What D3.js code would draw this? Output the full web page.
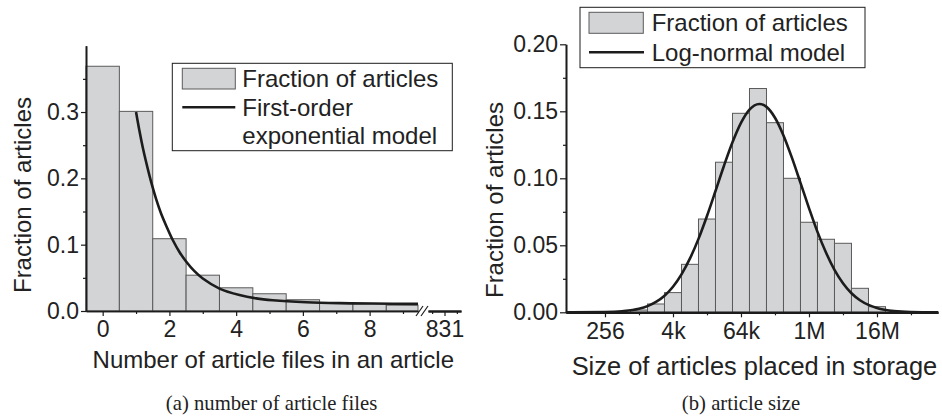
<!DOCTYPE html>
<html>
<head>
<meta charset="utf-8">
<script src="https://cdn.jsdelivr.net/npm/d3@7"></script>
<style>
  html, body { margin: 0; padding: 0; background: #fff; }
  svg { display: block; }
  text { font-family: "Liberation Sans", Arial, Helvetica, sans-serif; fill: #222; }
  .cap { font-family: "Liberation Serif", "Times New Roman", serif; }
</style>
</head>
<body>
<svg id="chart" width="942" height="418"></svg>
<script>
// ---------- data: (a) number of article files ----------
const leftBins = [0, 1, 2, 3, 4, 5, 6, 7, 8, 9];
const leftFraction = [0.369, 0.301, 0.109, 0.054, 0.035, 0.026, 0.017, 0.0125, 0.011, 0.0088];
const leftModelX = [1, 1.1, 1.2, 1.3, 1.45, 1.6, 1.75, 1.9, 2.1, 2.3, 2.5, 2.75, 3, 3.5, 4.1, 4.6, 5.1, 6.1, 7.1, 8.1, 9.45];
const leftModelY = [0.300, 0.272, 0.247, 0.225, 0.195, 0.169, 0.147, 0.129, 0.107, 0.089, 0.0747, 0.060, 0.049,
                    0.0338, 0.024, 0.019, 0.0162, 0.0132, 0.0118, 0.0112, 0.0108];
const leftXTicks = [0, 2, 4, 6, 8];
const leftXMinor = [1, 3, 5, 7, 9];
const leftBreakTicks = [831];
const leftBreakMinor = [830.25, 831.75];
const leftYTicks = [0, 0.1, 0.2, 0.3];
const leftYMinor = [0.05, 0.15, 0.25, 0.35];

// ---------- data: (b) article size ----------
const rightBinSizes = [1024, 2048, 4096, 8192, 16384, 32768, 65536, 131072, 262144, 524288,
                       1048576, 2097152, 4194304, 8388608, 16777216];
const rightFraction = [0.0017, 0.0062, 0.0147, 0.0358, 0.0696, 0.112, 0.1485, 0.167, 0.1415, 0.100,
                       0.0672, 0.0545, 0.0515, 0.0179, 0.0042];
const rightModelLog2 = [5.7, 6, 8, 9, 10, 10.5, 11, 11.5, 12, 12.5, 13, 13.5, 14, 14.5, 15, 15.5, 16, 16.5,
                        17.08, 17.5, 18, 18.5, 19, 19.5, 20, 20.5, 21, 21.5, 22, 22.5, 23, 23.5, 24, 25, 26, 27.6];
const rightModelY = [0, 0, 0.0002, 0.0008, 0.0026, 0.0046, 0.0077, 0.0124, 0.0191, 0.0283, 0.0402, 0.0548,
                     0.0719, 0.0905, 0.1094, 0.1269, 0.1414, 0.1513, 0.1555, 0.1533, 0.1452, 0.132, 0.1152,
                     0.0966, 0.0778, 0.060, 0.0446, 0.0317, 0.0217, 0.0142, 0.009, 0.0055, 0.0032, 0.0009, 0.0002, 0];
const rightXTicks = [256, 4096, 65536, 1048576, 16777216];
const rightXTickLabels = ["256", "4k", "64k", "1M", "16M"];
const rightXMinor = [1024, 16384, 262144, 4194304, 67108864];
const rightYTicks = [0, 0.05, 0.10, 0.15, 0.20];
const rightYMinor = [0.025, 0.075, 0.125, 0.175];

const legendLabels = { bars: "Fraction of articles", leftModel: ["First-order", "exponential model"], rightModel: "Log-normal model" };
const axisTitles = { y: "Fraction of articles", leftX: "Number of article files in an article", rightX: "Size of articles placed in storage" };
const captions = ["(a) number of article files", "(b) article size"];

// ---------- styles ----------
const BAR_FILL = "#d3d4d6", BAR_STROKE = "#5a5a5a", INK = "#1c1c1c";
const svg = d3.select("#chart");

function styleAxis(g, fs) {
  g.select(".domain").attr("stroke", INK).attr("stroke-width", 1.6);
  g.selectAll(".tick line").attr("stroke", INK).attr("stroke-width", 1.2);
  g.selectAll(".tick text").attr("font-size", fs).attr("fill", "#222")
    .attr("font-family", '"Liberation Sans", Arial, sans-serif');
}

// ================= LEFT CHART =================
{
  const x = d3.scaleLinear().domain([-0.5, 9.45]).range([86, 418]);
  const x2 = d3.scaleLinear().domain([830, 832]).range([428, 461]);
  const y = d3.scaleLinear().domain([0, 0.4]).range([311, 45.7]);
  const g = svg.append("g");

  g.selectAll("rect.bar").data(leftBins.map((b, i) => ({ b, v: leftFraction[i] })))
    .join("rect").attr("class", "bar")
    .attr("x", d => x(d.b - 0.5))
    .attr("width", d => x(Math.min(d.b + 0.5, x.domain()[1])) - x(d.b - 0.5))
    .attr("y", d => y(d.v))
    .attr("height", d => y(0) - y(d.v))
    .attr("fill", BAR_FILL).attr("stroke", BAR_STROKE).attr("stroke-width", 1);

  const line = d3.line().x(d => x(d[0])).y(d => y(d[1])).curve(d3.curveCatmullRom.alpha(0.5));
  g.append("path").datum(leftModelX.map((v, i) => [v, leftModelY[i]]))
    .attr("d", line).attr("fill", "none").attr("stroke", INK).attr("stroke-width", 2.6);

  const gx = g.append("g").attr("transform", `translate(0,${y(0)})`)
    .call(d3.axisBottom(x).tickValues(leftXTicks).tickFormat(d3.format("d")).tickSize(5).tickSizeOuter(0).tickPadding(4.5));
  styleAxis(gx, 23);
  const gxm = g.append("g").attr("transform", `translate(0,${y(0)})`)
    .call(d3.axisBottom(x).tickValues(leftXMinor).tickFormat("").tickSize(3).tickSizeOuter(0));
  styleAxis(gxm, 23);
  const gx2 = g.append("g").attr("transform", `translate(0,${y(0)})`)
    .call(d3.axisBottom(x2).tickValues(leftBreakTicks).tickFormat(d3.format("d")).tickSize(5).tickSizeOuter(0).tickPadding(4.5));
  styleAxis(gx2, 23);
  gx2.select(".domain").attr("stroke-width", 2);
  const gx2m = g.append("g").attr("transform", `translate(0,${y(0)})`)
    .call(d3.axisBottom(x2).tickValues(leftBreakMinor).tickFormat("").tickSize(3).tickSizeOuter(0));
  styleAxis(gx2m, 23);
  gx2m.select(".domain").attr("stroke-width", 2);

  const bx = x.range()[1], by = y(0);
  [1, 6].forEach(o => {
    g.append("line").attr("x1", bx + o - 3).attr("y1", by + 5).attr("x2", bx + o + 4).attr("y2", by - 5)
      .attr("stroke", INK).attr("stroke-width", 1.2);
  });

  const gy = g.append("g").attr("transform", `translate(${x.range()[0]},0)`)
    .call(d3.axisLeft(y).tickValues(leftYTicks).tickFormat(d3.format(".1f")).tickSize(5).tickSizeOuter(0).tickPadding(2));
  styleAxis(gy, 23);
  const gym = g.append("g").attr("transform", `translate(${x.range()[0]},0)`)
    .call(d3.axisLeft(y).tickValues(leftYMinor).tickFormat("").tickSize(3).tickSizeOuter(0));
  styleAxis(gym, 23);

  g.append("text").attr("transform", `translate(31,195) rotate(-90)`).attr("text-anchor", "middle")
    .attr("font-size", 24).text(axisTitles.y);
  g.append("text").attr("x", 273.3).attr("y", 368).attr("text-anchor", "middle")
    .attr("font-size", 24).text(axisTitles.leftX);

  const lg = g.append("g");
  lg.append("rect").attr("x", 172.3).attr("y", 63.3).attr("width", 280).attr("height", 87.4)
    .attr("fill", "#fff").attr("stroke", INK).attr("stroke-width", 1);
  lg.append("rect").attr("x", 182.3).attr("y", 68.3).attr("width", 53).attr("height", 20.7)
    .attr("fill", BAR_FILL).attr("stroke", BAR_STROKE).attr("stroke-width", 1);
  lg.append("text").attr("x", 242.3).attr("y", 86.7).attr("font-size", 24).text(legendLabels.bars);
  lg.append("line").attr("x1", 182.3).attr("x2", 235.3).attr("y1", 107.3).attr("y2", 107.3)
    .attr("stroke", INK).attr("stroke-width", 2.6);
  lg.append("text").attr("x", 242.3).attr("y", 116).attr("font-size", 24).text(legendLabels.leftModel[0]);
  lg.append("text").attr("x", 242.3).attr("y", 144.3).attr("font-size", 24).text(legendLabels.leftModel[1]);
}

// ================= RIGHT CHART =================
{
  const x = d3.scaleLog().base(2).domain([Math.pow(2, 5.706), Math.pow(2, 27.59)]).range([566, 938]);
  const y = d3.scaleLinear().domain([0, 0.2]).range([312.3, 44.3]);
  const g = svg.append("g");

  g.selectAll("rect.bar").data(rightBinSizes.map((s, i) => ({ s, v: rightFraction[i] })))
    .join("rect").attr("class", "bar")
    .attr("x", d => x(d.s / Math.SQRT2))
    .attr("width", d => x(d.s * Math.SQRT2) - x(d.s / Math.SQRT2))
    .attr("y", d => y(d.v))
    .attr("height", d => y(0) - y(d.v))
    .attr("fill", BAR_FILL).attr("stroke", BAR_STROKE).attr("stroke-width", 1);

  const line = d3.line().x(d => x(Math.pow(2, d[0]))).y(d => y(d[1])).curve(d3.curveMonotoneX);
  g.append("path").datum(rightModelLog2.map((p, i) => [p, rightModelY[i]]))
    .attr("d", line).attr("fill", "none").attr("stroke", INK).attr("stroke-width", 2.6);

  const gx = g.append("g").attr("transform", `translate(0,${y(0)})`)
    .call(d3.axisBottom(x).tickValues(rightXTicks).tickFormat((d, i) => rightXTickLabels[i]).tickSize(5).tickSizeOuter(0).tickPadding(5.7));
  styleAxis(gx, 23);
  gx.select(".domain").attr("stroke-width", 2.2);
  const gxm = g.append("g").attr("transform", `translate(0,${y(0)})`)
    .call(d3.axisBottom(x).tickValues(rightXMinor).tickFormat("").tickSize(3).tickSizeOuter(0));
  styleAxis(gxm, 23);
  gxm.select(".domain").attr("stroke-width", 2.2);

  const gy = g.append("g").attr("transform", `translate(${x.range()[0]},0)`)
    .call(d3.axisLeft(y).tickValues(rightYTicks).tickFormat(d3.format(".2f")).tickSize(6).tickSizeOuter(0).tickPadding(2));
  styleAxis(gy, 23);
  const gym = g.append("g").attr("transform", `translate(${x.range()[0]},0)`)
    .call(d3.axisLeft(y).tickValues(rightYMinor).tickFormat("").tickSize(3).tickSizeOuter(0));
  styleAxis(gym, 23);

  g.append("text").attr("transform", `translate(503,200) rotate(-90)`).attr("text-anchor", "middle")
    .attr("font-size", 24).text(axisTitles.y);
  g.append("text").attr("x", 571.7).attr("y", 375).attr("text-anchor", "start")
    .attr("font-size", 25.4).text(axisTitles.rightX);

  const lg = g.append("g");
  lg.append("rect").attr("x", 580).attr("y", 7.3).attr("width", 285).attr("height", 60.4)
    .attr("fill", "#fff").attr("stroke", INK).attr("stroke-width", 1);
  lg.append("rect").attr("x", 589).attr("y", 12.3).attr("width", 54.3).attr("height", 21)
    .attr("fill", BAR_FILL).attr("stroke", BAR_STROKE).attr("stroke-width", 1);
  lg.append("text").attr("x", 651.7).attr("y", 30.7).attr("font-size", 24).text(legendLabels.bars);
  lg.append("line").attr("x1", 589).attr("x2", 644).attr("y1", 52.3).attr("y2", 52.3)
    .attr("stroke", INK).attr("stroke-width", 2.6);
  lg.append("text").attr("x", 651.7).attr("y", 61).attr("font-size", 24).text(legendLabels.rightModel);
}

svg.append("text").attr("class", "cap").attr("x", 271.5).attr("y", 410).attr("text-anchor", "middle")
  .attr("font-size", 20.7).text(captions[0]);
svg.append("text").attr("class", "cap").attr("x", 741).attr("y", 410).attr("text-anchor", "middle")
  .attr("font-size", 20.7).text(captions[1]);
</script>
</body>
</html>
